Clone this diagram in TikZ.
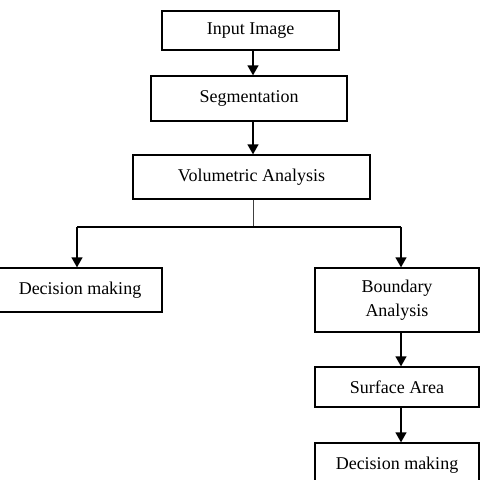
\documentclass[tikz,border=0pt]{standalone}
\usepackage{fontspec}
\setmainfont{Liberation Serif}
\usetikzlibrary{arrows.meta}
\begin{document}
\begin{tikzpicture}[x=1pt,y=-1pt,
  box/.style={draw,line width=1.3pt,inner sep=0pt,align=center,font=\fontsize{18}{24}\selectfont},
  arr/.style={line width=1.3pt,-{Triangle[width=11pt,length=10pt]}},
  ln/.style={line width=1.3pt}]
\useasboundingbox (0,0) rectangle (483,480);
\clip (0,0) rectangle (483,480);
\node[box,minimum width=177pt,minimum height=39pt] (inp) at (250.5,30.5) {Input Image};
\node[box,minimum width=196pt,minimum height=45pt] (seg) at (249,98.5) {Segmentation};
\node[box,minimum width=237pt,minimum height=44pt] (vol) at (251.5,177) {Volumetric Analysis};
\node[box,minimum width=164pt,minimum height=44pt] (dm1) at (80,290) {Decision making};
\node[box,minimum width=164pt,minimum height=64pt] (ba) at (397,300) {Boundary\\Analysis};
\node[box,minimum width=164pt,minimum height=40pt] (sa) at (397,387) {Surface Area};
\node[box,minimum width=164pt,minimum height=44pt] (dm2) at (397,465) {Decision making};
\coordinate (j) at (253,227);
\coordinate (jl) at (77,227);
\coordinate (jr) at (401,227);
\draw[arr] ([xshift=2.5pt]inp.south) -- ([xshift=4pt]seg.north);
\draw[arr] ([xshift=4pt]seg.south) -- ([xshift=1.5pt]vol.north);
\draw[line width=1pt,black!75] ([xshift=1.5pt]vol.south) -- (j);
\draw[ln] (jl) -- (jr);
\draw[arr] (jl) -- (jl |- dm1.north);
\draw[arr] (jr) -- (jr |- ba.north);
\draw[arr] ([xshift=4pt]ba.south) -- ([xshift=4pt]sa.north);
\draw[arr] ([xshift=4pt]sa.south) -- ([xshift=4pt]dm2.north);
\end{tikzpicture}
\end{document}
